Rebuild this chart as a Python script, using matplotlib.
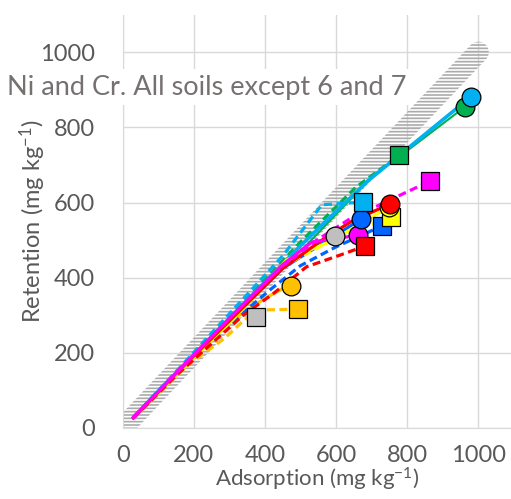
import matplotlib.pyplot as plt
import numpy as np
from matplotlib.patches import Polygon

plt.rcParams['font.family'] = ['Lato', 'DejaVu Sans']
plt.rcParams['mathtext.fontset'] = 'custom'
plt.rcParams['mathtext.rm'] = 'Lato'
plt.rcParams['mathtext.it'] = 'Lato'
plt.rcParams['hatch.linewidth'] = 1.2

# Adsorption (x) vs retention (y), mg/kg. Circles = Ni (solid), squares = Cr (dashed).
# Values.
ni_lightblue_x = [30, 100, 200, 350, 500, 690, 979]
ni_lightblue_y = [28, 98, 195, 340, 485, 658, 881]
ni_green_x = [30, 100, 200, 350, 500, 705, 778, 963]
ni_green_y = [27, 96, 192, 332, 470, 672, 722, 855]
ni_red_x = [30, 150, 300, 450, 560, 640, 751]
ni_red_y = [27, 145, 285, 425, 500, 548, 596]
ni_yellow_x = [30, 150, 300, 461, 592, 748]
ni_yellow_y = [27, 142, 280, 447, 500, 588]
ni_blue_x = [30, 150, 300, 450, 546, 671]
ni_blue_y = [27, 144, 285, 425, 482, 556]
ni_magenta_x = [30, 150, 300, 450, 532, 663]
ni_magenta_y = [28, 146, 292, 435, 495, 513]
ni_grey_x = [30, 150, 300, 450, 598]
ni_grey_y = [27, 144, 288, 430, 511]
ni_orange_x = [30, 150, 300, 400, 443, 472]
ni_orange_y = [27, 140, 282, 345, 367, 378]

cr_green_x = [30, 100, 200, 350, 500, 655, 778]
cr_green_y = [28, 98, 196, 345, 495, 640, 726]
cr_lightblue_x = [30, 150, 300, 450, 560, 675]
cr_lightblue_y = [28, 150, 304, 458, 594, 601]
cr_magenta_x = [30, 150, 300, 450, 546, 648, 714, 864]
cr_magenta_y = [28, 147, 292, 432, 500, 562, 590, 657]
cr_yellow_x = [30, 150, 300, 450, 600, 754]
cr_yellow_y = [27, 141, 278, 430, 505, 562]
cr_blue_x = [30, 150, 330, 420, 500, 600, 730]
cr_blue_y = [27, 140, 300, 372, 432, 482, 538]
cr_red_x = [30, 150, 339, 424, 517, 611, 681]
cr_red_y = [27, 140, 300, 358, 429, 460, 484]
cr_grey_x = [30, 150, 300, 340, 375]
cr_grey_y = [27, 142, 282, 300, 296]
cr_orange_x = [30, 180, 288, 339, 380, 494]
cr_orange_y = [26, 165, 240, 285, 314, 316]

one_to_one = [0, 1000]

fig = plt.figure(figsize=(5.11, 4.99), dpi=100)
ax = fig.add_axes([122.7 / 511, 71 / 499, 388.3 / 511, 413 / 499])
ax.set_xlim(0, 1092)
ax.set_ylim(0, 1099)
ax.set_xticks([0, 200, 400, 600, 800, 1000])
ax.set_yticks([0, 200, 400, 600, 800, 1000])
ax.grid(True, color='#D9D9D9', lw=1.0)
ax.set_axisbelow(True)
for s in ['top', 'right']:
    ax.spines[s].set_visible(False)
ax.spines['left'].set_color('#D9D9D9')
ax.spines['bottom'].set_color('#D9D9D9')
ax.tick_params(length=0, labelsize=17, colors='#595959')
ax.tick_params(axis='x', pad=12)
ax.tick_params(axis='y', pad=20)

# hatched 1:1 band, built in pixel space then mapped back to data
p0, p1 = ax.transData.transform(np.column_stack([one_to_one, one_to_one]))
d = (p1 - p0) / np.hypot(*(p1 - p0))
n = np.array([-d[1], d[0]])
r = 10.5
ang = np.linspace(0, np.pi, 20)
cap1 = [p1 + r * (np.cos(a) * -n + np.sin(a) * d) for a in ang]
cap0 = [p0 + r * (np.cos(a) * n - np.sin(a) * d) for a in ang]
verts = ax.transData.inverted().transform(np.array(cap1 + cap0))
ax.add_patch(Polygon(verts, closed=True, facecolor='none', edgecolor='#ABABAB',
                     lw=0, hatch='-----', zorder=1.5))

line_z = [2.0]

def series(x, y, color, marker, dashed, lw=2.3, ms=13.5):
    kw = dict(dashes=(2.5, 1.4)) if dashed else {}
    line_z[0] += 0.01
    ax.plot(x, y, color=color, lw=lw, zorder=line_z[0], **kw)

def end_marker(x, y, color, marker, ms=13.5):
    ax.plot(x[-1], y[-1], ls='none', marker=marker, ms=ms, mfc=color,
            mec='black', mew=0.9, zorder=3)

# lines, back to front
series(ni_green_x, ni_green_y, '#00B050', 'o', False, lw=1.5)
series(cr_green_x, cr_green_y, '#00B050', 's', True)
series(ni_lightblue_x, ni_lightblue_y, '#00B0F0', 'o', False, lw=2.6)
series(cr_lightblue_x, cr_lightblue_y, '#00B0F0', 's', True)
series(cr_orange_x, cr_orange_y, '#FFC000', 's', True)
series(ni_orange_x, ni_orange_y, '#FFC000', 'o', False)
series(cr_grey_x, cr_grey_y, '#BFBFBF', 's', True)
series(ni_grey_x, ni_grey_y, '#BFBFBF', 'o', False)
series(cr_blue_x, cr_blue_y, '#0066FF', 's', True)
series(ni_blue_x, ni_blue_y, '#0066FF', 'o', False)
series(cr_yellow_x, cr_yellow_y, '#FFFF00', 's', True)
series(ni_yellow_x, ni_yellow_y, '#FFFF00', 'o', False)
series(cr_red_x, cr_red_y, '#FF0000', 's', True)
series(ni_red_x, ni_red_y, '#FF0000', 'o', False)
series(ni_magenta_x, ni_magenta_y, '#FF00FF', 'o', False)
series(cr_magenta_x, cr_magenta_y, '#FF00FF', 's', True)

# end markers, back to front
end_marker(cr_orange_x, cr_orange_y, '#FFC000', 's', ms=12.5)
end_marker(cr_grey_x, cr_grey_y, '#BFBFBF', 's', ms=12.5)
end_marker(ni_orange_x, ni_orange_y, '#FFC000', 'o')
end_marker(ni_grey_x, ni_grey_y, '#BFBFBF', 'o')
end_marker(ni_magenta_x, ni_magenta_y, '#FF00FF', 'o')
end_marker(cr_blue_x, cr_blue_y, '#0066FF', 's', ms=12.5)
end_marker(cr_yellow_x, cr_yellow_y, '#FFFF00', 's', ms=12.5)
end_marker(ni_yellow_x, ni_yellow_y, '#FFFF00', 'o')
end_marker(ni_red_x, ni_red_y, '#FF0000', 'o')
end_marker(ni_blue_x, ni_blue_y, '#0066FF', 'o')
end_marker(cr_red_x, cr_red_y, '#FF0000', 's', ms=12.5)
end_marker(cr_magenta_x, cr_magenta_y, '#FF00FF', 's', ms=12.5)
end_marker(cr_lightblue_x, cr_lightblue_y, '#00B0F0', 's', ms=12.5)
end_marker(cr_green_x, cr_green_y, '#00B050', 's', ms=12.5)
end_marker(ni_green_x, ni_green_y, '#00B050', 'o')
end_marker(ni_lightblue_x, ni_lightblue_y, '#00B0F0', 'o')

ax.set_xlabel('Adsorption (mg kg$^{-1}$)', fontsize=16, color='#595959', labelpad=0)
ax.set_ylabel('Retention (mg kg$^{-1}$)', fontsize=17, color='#595959', labelpad=-6)

fig.text(7 / 511, 1 - 87 / 499, 'Ni and Cr. All soils except 6 and 7', fontsize=19.5,
         color='#767171', va='center', ha='left',
         bbox=dict(facecolor='white', edgecolor='none', pad=4))

fig.savefig('out.png', dpi=100)
